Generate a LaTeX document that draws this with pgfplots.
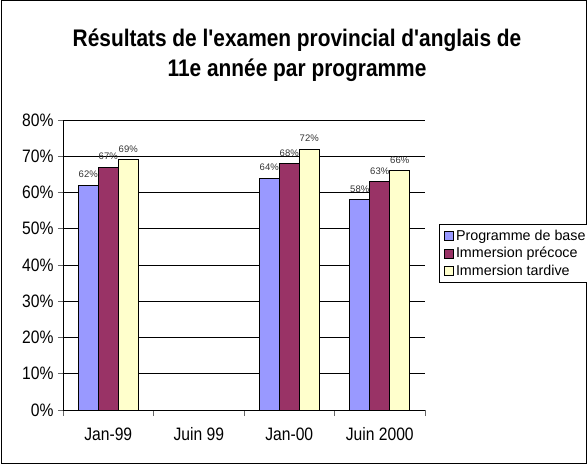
\documentclass[border=0pt]{standalone}
\usepackage{fontspec}
\setmainfont{Liberation Sans}[FakeStretch=0.87, Ligatures=TeXOff]
\newfontfamily\legfont{Liberation Sans}[Ligatures=TeXOff]
\usepackage{pgfplots}
\pgfplotsset{compat=1.18}
\definecolor{cbase}{HTML}{9999FF}
\definecolor{cprec}{HTML}{993366}
\definecolor{ctard}{HTML}{FFFFCC}
\begin{document}
\begin{tikzpicture}[x=1pt,y=1pt]
\useasboundingbox (0,0) rectangle (587,464);
\draw[black, line width=1pt] (1,1) rectangle (586,463);
\node[align=center, font=\fontsize{24}{29.5}\selectfont\bfseries] at (297,409) {Résultats de l'examen provincial d'anglais de\\11e année par programme};
\begin{axis}[
  at={(63pt,54pt)}, anchor=south west,
  scale only axis, width=362pt, height=290pt,
  ybar=0pt, bar width=20pt,
  xmin=-0.5, xmax=3.5, ymin=0, ymax=80,
  axis x line*=bottom, axis y line*=left,
  axis line style={black, line width=0.9pt, -},
  xtick={0,1,2,3},
  xticklabels={Jan-99, Juin 99, Jan-00, Juin 2000},
  major x tick style={draw=none},
  minor xtick={-0.5,0.5,1.5,2.5,3.5},
  minor x tick style={draw=gray!80!black, line width=0.9pt},
  minor tick length=6pt,
  ytick={0,10,...,80},
  yticklabels={0\%,10\%,20\%,30\%,40\%,50\%,60\%,70\%,80\%},
  major y tick style={draw=gray!80!black, line width=0.9pt},
  major tick length=5pt,
  tick align=outside,
  ymajorgrids,
  grid style={black, line width=0.8pt},
  tick label style={font=\fontsize{18}{20}\selectfont, black},
  xticklabel style={yshift=-9pt},
  yticklabel style={xshift=-1pt},
  /pgf/number format/assume math mode=true,
  nodes near coords={\pgfmathprintnumber{\pgfplotspointmeta}\%},
  every node near coord/.append style={font=\legfont\fontsize{9.5}{11}\selectfont, text=black!80, inner sep=0pt, anchor=south, yshift=7pt},
  legend style={at={(1.0387,0.641)}, anchor=north west, draw=black, line width=0.8pt,
    font=\legfont\fontsize{14.3}{16.5}\selectfont, row sep=1.5pt, inner xsep=5pt, inner ysep=3.5pt},
  legend cell align=left,
  legend image code/.code={\draw[#1, draw=black, line width=0.6pt] (0pt,-4.5pt) rectangle (9pt,4.5pt);},
  clip=false,
]
\addplot[fill=cbase, draw=black, line width=0.8pt] coordinates {(0,62) (2,64) (3,58)};
\addplot[fill=cprec, draw=black, line width=0.8pt] coordinates {(0,67) (2,68) (3,63)};
\addplot[fill=ctard, draw=black, line width=0.8pt] coordinates {(0,69) (2,72) (3,66)};
\legend{Programme de base, Immersion précoce, Immersion tardive}
\end{axis}
\end{tikzpicture}
\end{document}
